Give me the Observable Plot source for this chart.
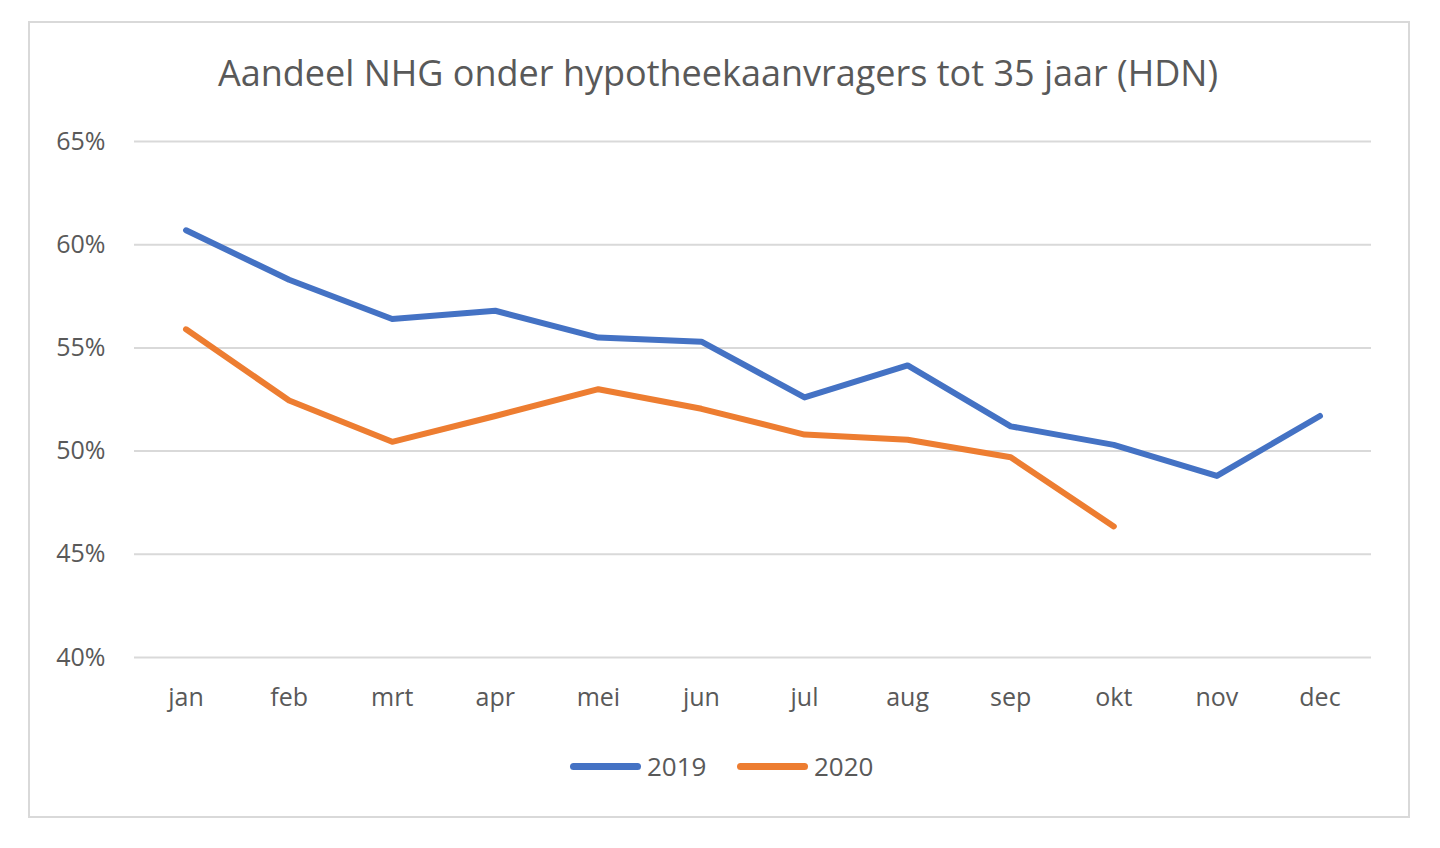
<!DOCTYPE html>
<html>
<head>
<meta charset="utf-8">
<script src="https://cdn.jsdelivr.net/npm/d3@7"></script>
<script src="https://cdn.jsdelivr.net/npm/@observablehq/plot@0.6"></script>
<style>
  html, body { margin: 0; padding: 0; background: #fff; width: 1440px; height: 848px; overflow: hidden; }
  body { font-family: "Open Sans", sans-serif; color: #595959; position: relative; }
  #frame { position: absolute; left: 28px; top: 21px; width: 1378px; height: 793px; border: 2px solid #d9d9d9; box-sizing: content-box; }
  #title { position: absolute; left: 0; top: 49px; width: 1436px; text-align: center; font-size: 36px; color: #595959; line-height: 48px; }
  #chart { position: absolute; left: 0; top: 100px; }
  #legend { position: absolute; top: 746px; left: 0; width: 1440px; height: 40px; }
  .item { position: absolute; top: 0; display: flex; align-items: center; height: 40px; font-size: 26px; color: #595959; }
  .swatch { width: 71px; height: 7px; border-radius: 4px; margin-right: 6px; }
</style>
</head>
<body>
<div id="frame"></div>
<div id="title">Aandeel NHG onder hypotheekaanvragers tot 35 jaar (HDN)</div>
<div id="chart"></div>
<div id="legend"></div>
<script>
const months = ["jan","feb","mrt","apr","mei","jun","jul","aug","sep","okt","nov","dec"];
const series = ["2019","2020"];
const values2019 = [60.7, 58.3, 56.4, 56.8, 55.5, 55.3, 52.6, 54.15, 51.2, 50.3, 48.8, 51.7];
const values2020 = [55.9, 52.45, 50.45, 51.7, 53.0, 52.05, 50.8, 50.55, 49.7, 46.35];
const yTicks = [40, 45, 50, 55, 60, 65];
const colors = ["#4472C4", "#ED7D31"];

const data = [
  ...values2019.map((v, i) => ({month: months[i], value: v, year: series[0]})),
  ...values2020.map((v, i) => ({month: months[i], value: v, year: series[1]}))
];

const chart = Plot.plot({
  width: 1440,
  height: 620,
  marginLeft: 134,
  marginRight: 69,
  marginTop: 41,
  marginBottom: 63,
  style: {fontFamily: "'Open Sans', sans-serif", fontSize: "25px", color: "#595959", background: "transparent"},
  x: {type: "point", domain: months, padding: 0.5, round: false, label: null},
  y: {domain: [40, 65], ticks: yTicks, label: null},
  color: {domain: series, range: colors},
  marks: [
    Plot.gridY(yTicks, {stroke: "#d9d9d9", strokeOpacity: 1, strokeWidth: 2}),
    Plot.axisY(yTicks, {tickSize: 0, tickPadding: 29, tickFormat: d => d + "%", fill: "#595959"}),
    Plot.axisX({tickSize: 0, tickPadding: 31, fill: "#595959"}),
    Plot.line(data, {x: "month", y: "value", z: "year", stroke: "year", strokeWidth: 6, strokeLinejoin: "round", strokeLinecap: "round"})
  ]
});
document.getElementById("chart").appendChild(chart);

const legend = document.getElementById("legend");
const lefts = [570, 737];
series.forEach((s, i) => {
  const item = document.createElement("div");
  item.className = "item";
  item.style.left = lefts[i] + "px";
  const sw = document.createElement("div");
  sw.className = "swatch";
  sw.style.background = colors[i];
  const label = document.createElement("span");
  label.textContent = s;
  item.appendChild(sw);
  item.appendChild(label);
  legend.appendChild(item);
});
</script>
</body>
</html>
